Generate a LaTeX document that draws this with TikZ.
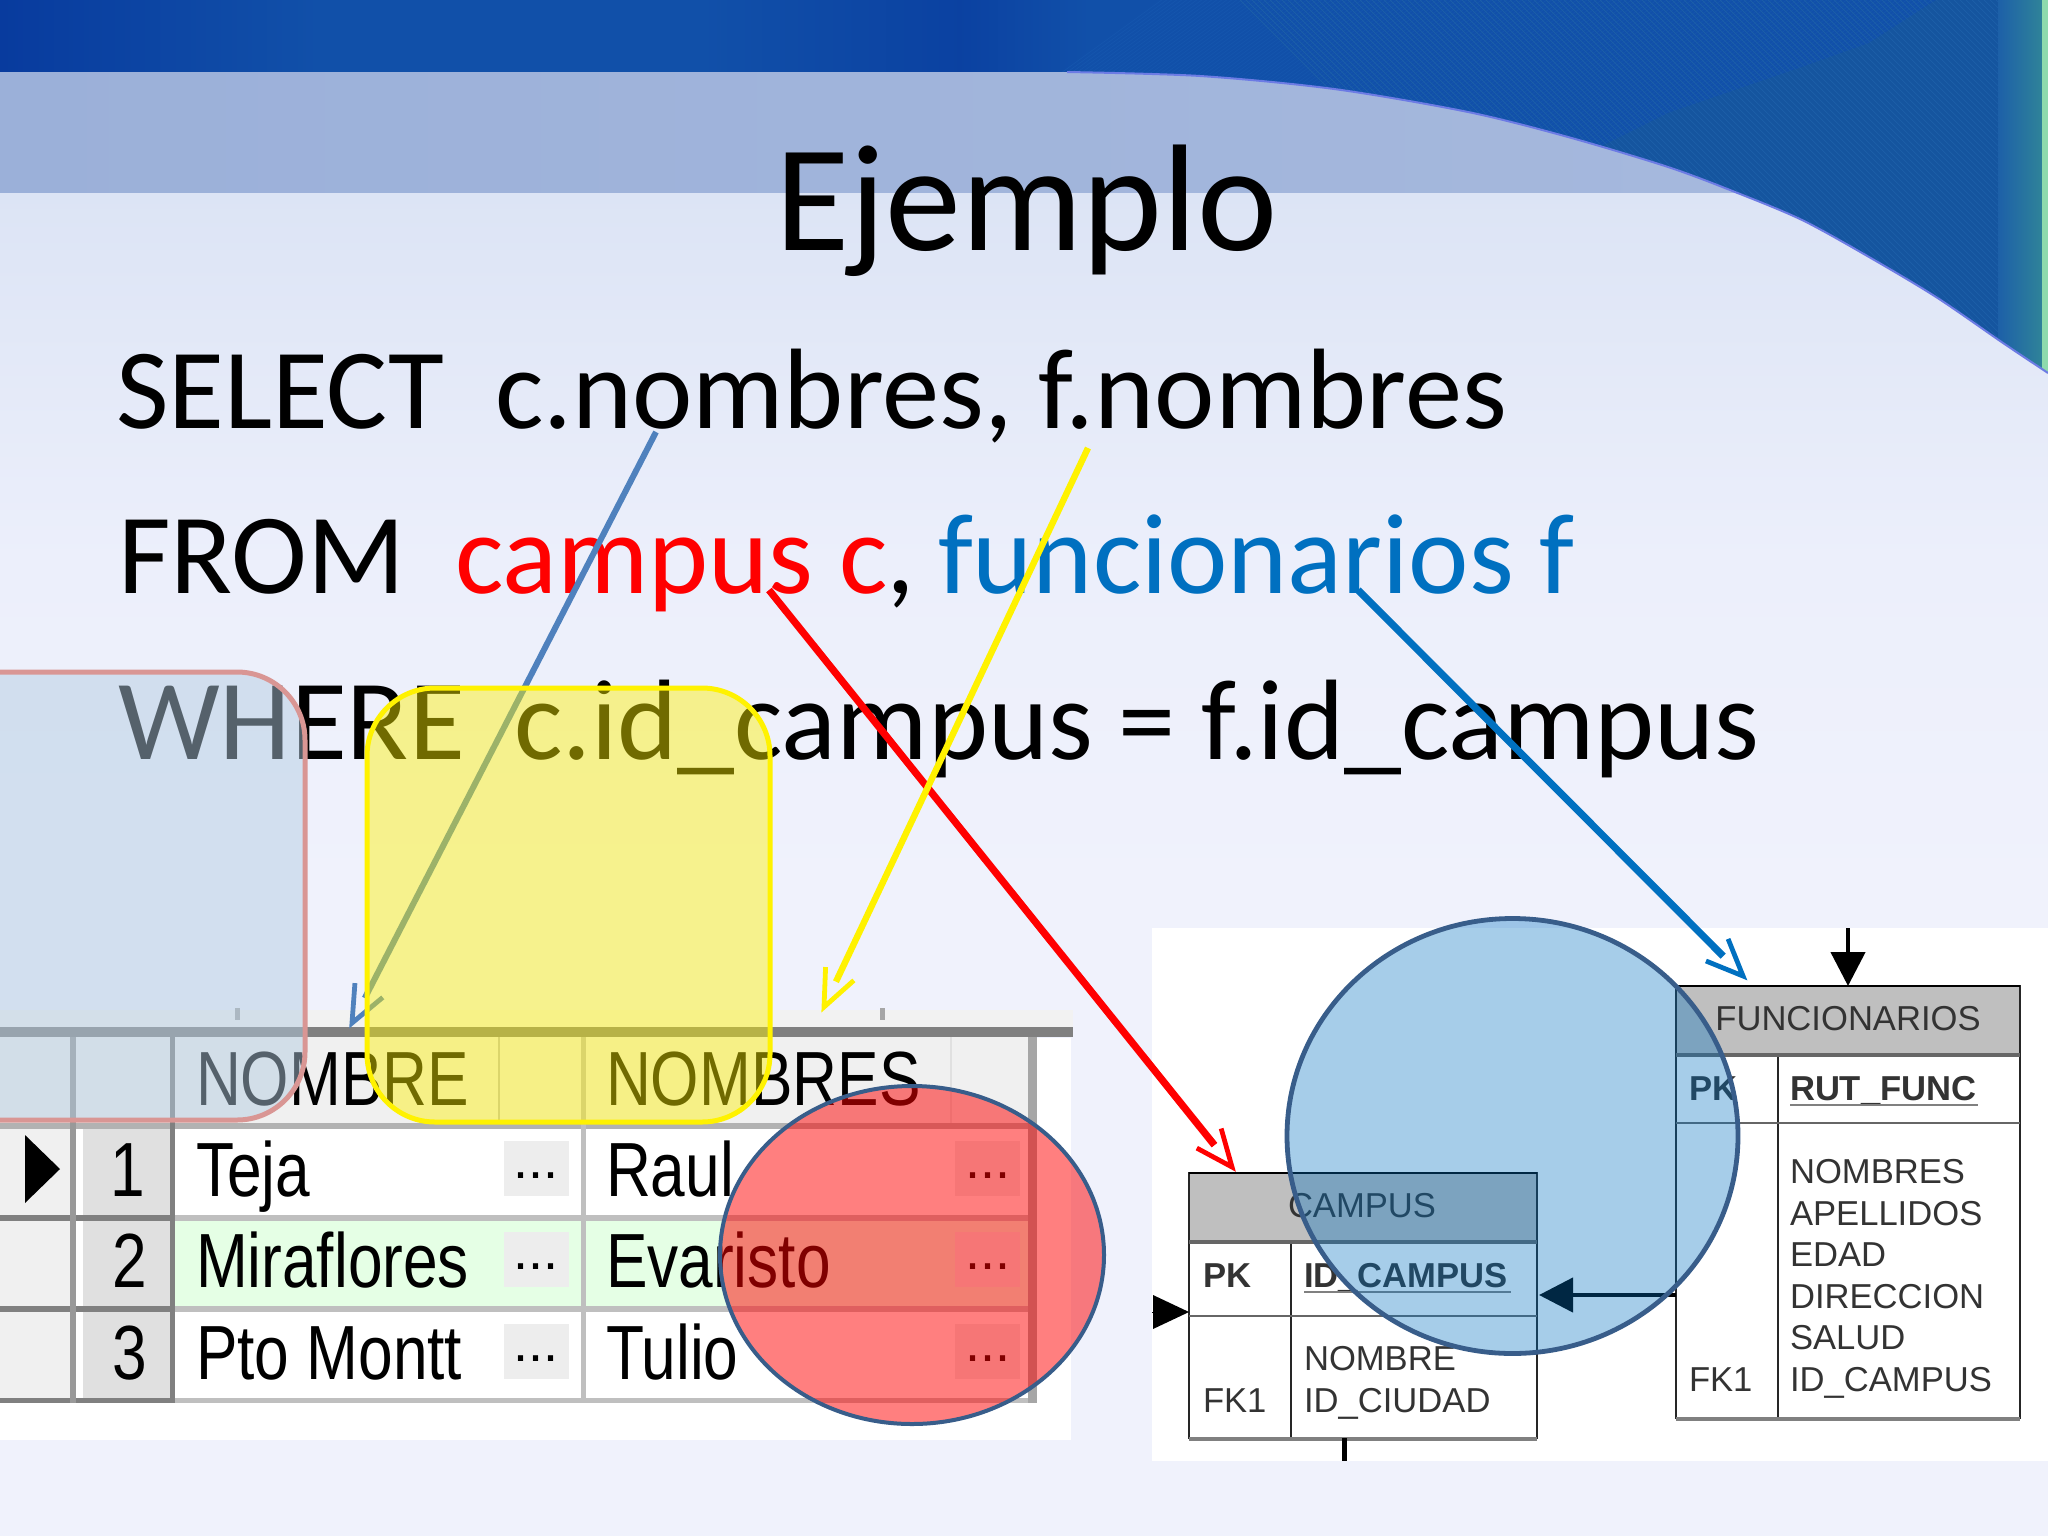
\documentclass[tikz,border=0pt]{standalone}
\usepackage{fontspec}
\usepackage{graphicx}
\usetikzlibrary{arrows.meta,calc}
\setmainfont{Carlito}
\newfontfamily\arialf{Liberation Sans}
\definecolor{bandc}{HTML}{9BB0D9}
\definecolor{bgtop}{HTML}{DCE4F5}
\definecolor{bgmid}{HTML}{ECEFFB}
\definecolor{bgbot}{HTML}{F0F2FC}
\definecolor{topmid}{HTML}{1150A9}
\definecolor{topdark}{HTML}{083B9E}
\definecolor{toplow}{HTML}{15559F}
\definecolor{teal}{HTML}{2F8399}
\definecolor{hatchc}{HTML}{1556AE}
\definecolor{hatchd}{HTML}{1D60A8}
\definecolor{msblue}{HTML}{0070C0}
\definecolor{steel}{HTML}{4F81BD}
\definecolor{ringc}{HTML}{385D8A}
\definecolor{pinkc}{HTML}{D99694}
\definecolor{pinkfill}{HTML}{B3CCE1}
\newcommand\tbl[1]{\scalebox{.81}[1]{\arialf\fontsize{38.4}{40}\selectfont #1}}
\newcommand\dotbtn{\arialf\fontsize{27}{30}\selectfont ...}
\newcommand\swooshpts{(2048,373) (2003,343) (1936,297) (1869,257) (1802,220) (1735,192) (1668,167) (1568,137) (1468,112) (1334,89) (1200,76) (1067,72)}
% open arrow: shaft stops short of the tip, barbs drawn thinner
\newcommand\openarr[4]{%
  \draw[#1,line width=#2,line cap=butt] (#3) -- ($(#4)!14pt!(#3)$);
  \draw[#1,line width=2.4pt,miter limit=8] ($(#4)!20pt!23:(#3)$) -- (#4) -- ($(#4)!20pt!-23:(#3)$);
}
\tikzset{
  every node/.style={inner sep=0pt,outer sep=0pt},
  title/.style={anchor=base west,font=\fontsize{76}{80}\selectfont},
  sql/.style={anchor=base west,font=\fontsize{57.2}{60}\selectfont},
  celltext/.style={anchor=base west},
  numtext/.style={anchor=base east},
  dottext/.style={anchor=base},
  ertext/.style={anchor=base west,text=black!80,font=\arialf\fontsize{17.3}{20}\selectfont},
  erbold/.style={ertext,font=\arialf\bfseries\fontsize{17.3}{20}\selectfont},
  erbox/.style={draw=black!85,line width=.9pt,fill=white,anchor=north west},
  erhead/.style={draw=black!85,line width=.9pt,fill=black!25,anchor=north west},
  solidarrow/.style={-{Triangle[length=17pt,width=17pt]},line width=2.2pt,black},
}
\begin{document}
\begin{tikzpicture}[x=0.5pt,y=-0.5pt]
\useasboundingbox (0,0) rectangle (2048,1536);
\clip (0,0) rectangle (2048,1536);
% --- background
\fill[top color=bgtop,bottom color=bgmid] (0,192) rectangle (2048,560);
\fill[bgbot] (0,560) rectangle (2048,1536);
\fill[top color=bgmid,bottom color=bgbot] (0,560) rectangle (2048,900);
\fill[left color=bandc,right color=bandc!88!white] (0,72) rectangle (2048,192);
% --- top blue swoosh
\begin{scope}
\clip (0,0) -- (2048,0) -- plot[smooth] coordinates {\swooshpts} -- (0,72) -- cycle;
\fill[topmid] (0,0) rectangle (2048,400);
\fill[left color=topdark,right color=topmid] (0,0) rectangle (320,72);
\fill[left color=topmid,right color=topdark!70!topmid] (700,0) rectangle (960,72);
\fill[left color=topdark!70!topmid,right color=topmid] (960,0) rectangle (1090,72);
\foreach \i in {610,615,...,2010} \draw[hatchc,line width=.35pt] (\i,400) -- ++(800,-580);
\fill[toplow] (1600,147) -- (1668,113) -- (1802,67) -- (1869,43) -- (1936,0) -- (2048,0) -- (2048,400) -- (1600,400) -- cycle;
\foreach \i in {1660,1666,...,2500} \draw[hatchd,line width=.35pt] (\i,420) -- ++(-480,-480);
\fill[left color=hatchd,right color=teal] (1998,0) rectangle (2042,400);
\fill[teal!60!green!50!white] (2042,0) rectangle (2048,400);
\end{scope}
\draw[blue!30!bandc,line width=1pt] plot[smooth] coordinates {\swooshpts};
% --- left result grid
\fill[white] (0,1038) rectangle (1071,1440);
\fill[gray!10] (0,1010) rectangle (1073,1027);
\fill[black!50] (0,1027) rectangle (1073,1037);
\fill[black!6] (0,1037) rectangle (1028,1123);
\fill[black!6] (0,1129) rectangle (70,1398);
\fill[black!12] (83,1129) rectangle (170,1398);
\fill[green!10] (175,1221) rectangle (581,1306);
\fill[green!10] (586,1221) rectangle (1028,1306);
\fill[black!30] (0,1123) rectangle (1028,1129);
\fill[black!25] (175,1215) rectangle (1028,1221);
\fill[black!25] (175,1306) rectangle (1028,1312);
\fill[black!25] (175,1398) rectangle (1037,1403);
\fill[black!50] (0,1215) rectangle (175,1221);
\fill[black!50] (0,1306) rectangle (175,1312);
\fill[black!50] (0,1398) rectangle (175,1403);
\fill[black!40] (70,1037) rectangle (76,1403);
\fill[black!50] (170,1037) rectangle (175,1403);
\fill[black!25] (581,1037) rectangle (586,1403);
\fill[black!35] (1028,1037) rectangle (1037,1403);
\fill[black!25] (498,1037) rectangle (500,1123);
\fill[black!12] (950,1037) rectangle (952,1123);
\foreach \bx/\by in {504/1141,504/1232,504/1324,955/1141,955/1232,955/1324}
  \fill[black!7] (\bx,\by) rectangle ++(65,55);
\fill[black!35] (235,1008) rectangle (240,1020);
\fill[black!35] (880,1008) rectangle (885,1020);
\fill[black] (25,1135) -- (60,1169) -- (25,1203) -- cycle;
\node[celltext] (h1) at (196,1105) {\tbl{NOMBRE}};
\node[celltext] (h2) at (606,1105) {\tbl{NOMBRES}};
\node[numtext] (n1) at (145,1196) {\tbl{1}};
\node[numtext] (n2) at (147,1287) {\tbl{2}};
\node[numtext] (n3) at (147,1379) {\tbl{3}};
\node[celltext] (a1) at (196,1196) {\tbl{Teja}};
\node[celltext] (a2) at (196,1287) {\tbl{Miraflores}};
\node[celltext] (a3) at (196,1379) {\tbl{Pto Montt}};
\node[celltext] (b1) at (606,1196) {\tbl{Raul}};
\node[celltext] (b2) at (606,1287) {\tbl{Evaristo}};
\node[celltext] (b3) at (606,1379) {\tbl{Tulio}};
\node[dottext] (d1) at (536,1178) {\dotbtn};
\node[dottext] (d2) at (536,1269) {\dotbtn};
\node[dottext] (d3) at (536,1361) {\dotbtn};
\node[dottext] (e1) at (988,1178) {\dotbtn};
\node[dottext] (e2) at (988,1269) {\dotbtn};
\node[dottext] (e3) at (988,1361) {\dotbtn};
% --- right ER image
\fill[white] (1152,928) rectangle (2048,1461);
\node[erbox,minimum width=174pt,minimum height=132.5pt] (campus) at (1189,1173) {};
\node[erhead,minimum width=174pt,minimum height=34.5pt] (campusH) at (1189,1173) {};
\node[erbox,minimum width=172pt,minimum height=216pt] (func) at (1676,986) {};
\node[erhead,minimum width=172pt,minimum height=34.5pt] (funcH) at (1676,986) {};
\draw[black!85,line width=.9pt] (1291,1242) -- (1291,1438);
\draw[black!60,line width=1.8pt] (1189,1242) -- (1537,1242);
\draw[black!60,line width=1.3pt] (1189,1316) -- (1537,1316);
\draw[black!50,line width=2pt] (1189,1439) -- (1537,1439);
\draw[black,line width=1.3pt] (1189,1173) -- (1537,1173);
\draw[black!85,line width=.9pt] (1778,1055) -- (1778,1418);
\draw[black!60,line width=1.8pt] (1676,1055) -- (2020,1055);
\draw[black!60,line width=1.3pt] (1676,1123) -- (2020,1123);
\draw[black!50,line width=2pt] (1676,1419) -- (2020,1419);
\draw[black,line width=1.3pt] (1676,986) -- (2020,986);
\node[ertext,anchor=base] (tc) at (1362,1217) {CAMPUS};
\node[ertext,anchor=base] (tf) at (1848,1030) {FUNCIONARIOS};
\node[erbold] (cpk) at (1203,1287) {PK};
\node[erbold] (cid) at (1304,1287) {ID\_CAMPUS};
\node[ertext] (cn) at (1304,1370) {NOMBRE};
\node[ertext] (cf) at (1203,1412) {FK1};
\node[ertext] (cc) at (1304,1412) {ID\_CIUDAD};
\node[erbold] (fpk) at (1689,1100) {PK};
\node[erbold] (frut) at (1790,1100) {RUT\_FUNC};
\node[ertext] (f1) at (1790,1183) {NOMBRES};
\node[ertext] (f2) at (1790,1225) {APELLIDOS};
\node[ertext] (f3) at (1790,1266) {EDAD};
\node[ertext] (f4) at (1790,1308) {DIRECCION};
\node[ertext] (f5) at (1790,1349) {SALUD};
\node[ertext] (ffk) at (1689,1391) {FK1};
\node[ertext] (f6) at (1790,1391) {ID\_CAMPUS};
\draw[black!50,line width=1.2pt] (1304,1292) -- (1511,1292);
\draw[black!50,line width=1.2pt] (1790,1105) -- (1978,1105);
\coordinate (ftop) at (1848,928);
\coordinate (fleft) at (1676,1295);
\coordinate (cright) at (1539,1295);
\coordinate (cleftA) at (1152,1312);
\coordinate (cleftB) at (1189,1312);
\coordinate (cbotA) at (1344,1438);
\coordinate (cbotB) at (1344,1461);
\draw[solidarrow] (ftop) -- (funcH.north -| ftop);
\draw[solidarrow] (fleft) -- (cright);
\draw[-{Triangle[length=18pt,width=17pt]},line width=0pt,black] (cleftA) -- (cleftB);
\draw[black,line width=2.5pt] (cbotA) -- (cbotB);
% --- title and SQL text
\node[title] (ttl) at (775,250) {Ejemplo};
\node[sql] (s1) at (116,428) {SELECT};
\node[sql] (s2) at (495,428) {c.nombres, f.nombres};
\node[sql] (s3) at (118,593) {FROM};
\node[sql,text=red] (s4) at (455,593) {campus c};
\node[sql] (s5) at (886,593) {,};
\node[sql,text=msblue] (s6) at (938,593) {funcionarios f};
\node[sql] (s7) at (118,759) {WHERE};
\node[sql] (s8) at (514,759) {c.id\_campus = f.id\_campus};
% --- arrows
\coordinate (ra) at (769,590); \coordinate (rb) at (1232,1167);
\coordinate (ba) at (1358,590); \coordinate (bb) at (1743,976);
\coordinate (ya) at (1088,448); \coordinate (yb) at (824,1007);
\coordinate (sa) at (656,432); \coordinate (sb) at (352,1023);
\openarr{red}{3.6pt}{ra}{rb}
\openarr{msblue}{3.6pt}{ba}{bb}
\openarr{yellow}{3.2pt}{ya}{yb}
\openarr{steel}{3pt}{sa}{sb}
% --- translucent shapes
\draw[pinkc,line width=2.5pt,fill=pinkfill,fill opacity=.48,rounded corners=34pt] (-120,672) rectangle (305,1120);
\draw[yellow,line width=2.5pt,fill=yellow,fill opacity=.44,rounded corners=34pt] (367,688) rectangle (770,1122);
\draw[ringc,line width=2pt,fill=red,fill opacity=.5] (912,1255) ellipse (192 and 169);
\draw[ringc,line width=2.4pt,fill=msblue,fill opacity=.35] (1512.5,1136) ellipse (225.5 and 217.5);
\end{tikzpicture}
\end{document}
